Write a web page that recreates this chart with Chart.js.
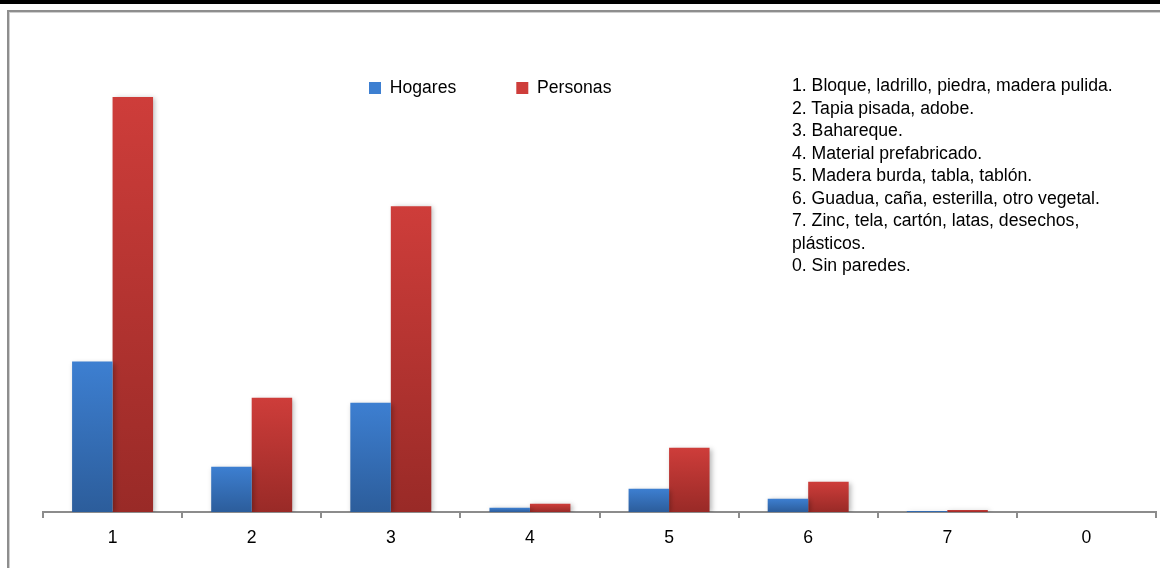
<!DOCTYPE html>
<html>
<head>
<meta charset="utf-8">
<script src="https://cdn.jsdelivr.net/npm/chart.js@4/dist/chart.umd.min.js"></script>
<style>
  html, body { margin: 0; padding: 0; background: #fff; }
  body { width: 1160px; height: 568px; position: relative; overflow: hidden; font-family: "Liberation Sans", Arial, sans-serif; }
  #topbar { position: absolute; left: 0; top: 0; width: 1160px; height: 4px; background: #000; }
  #frame { position: absolute; left: 7px; top: 10px; width: 1200px; height: 600px;
           border-top: 2px solid #8e8e8e; border-left: 2px solid #8e8e8e;
           box-shadow: inset 1px 1px 0 #cfcfcf; }
  #wrap { position: absolute; left: 0; top: 0; width: 1160px; height: 568px; }
  #notes { position: absolute; left: 792px; top: 74px; font-size: 18px; line-height: 22.5px;
           color: #000; white-space: nowrap; transform: scaleX(0.98); transform-origin: 0 0; }
</style>
</head>
<body>
<div id="topbar"></div>
<div id="frame"></div>
<div id="wrap"><canvas id="c" width="1160" height="568"></canvas></div>
<div id="notes"></div>
<script>
// ---- data ----
const categories = ['1', '2', '3', '4', '5', '6', '7', '0'];
const hogares  = [150, 45, 109, 4, 23, 13, 1, 0];
const personas = [414, 114, 305, 8, 64, 30, 2, 0];
const seriesNames = ['Hogares', 'Personas'];
const notes = [
  '1. Bloque, ladrillo, piedra, madera pulida.',
  '2. Tapia pisada, adobe.',
  '3. Bahareque.',
  '4. Material prefabricado.',
  '5. Madera burda, tabla, tablón.',
  '6. Guadua, caña, esterilla, otro vegetal.',
  '7. Zinc, tela, cartón, latas, desechos,',
  'plásticos.',
  '0. Sin paredes.'
];

document.getElementById('notes').innerHTML = notes.map(t => '<div>' + t + '</div>').join('');

function barGradient(top, bottom, flat) {
  return (ctx) => {
    const chart = ctx.chart;
    const sc = chart.scales && chart.scales.y;
    if (ctx.type !== 'data' || !chart.chartArea || !sc) return flat;
    const yTop = sc.getPixelForValue(ctx.raw);
    const yBase = sc.getPixelForValue(0);
    if (!isFinite(yTop) || yBase - yTop < 1) return top;
    const g = chart.ctx.createLinearGradient(0, yTop, 0, yBase);
    g.addColorStop(0, top);
    g.addColorStop(1, bottom);
    return g;
  };
}

const LEG_PAD = 60;
const legendPlacer = {
  id: 'legendPlacer',
  afterLayout(chart) {
    const lg = chart.legend;
    if (!lg) return;
    lg.left = 369 - LEG_PAD;
    lg.right = lg.left + 520;
    lg.top = 79.2 - LEG_PAD;
    lg.bottom = lg.top + 140;
    lg.width = 520;
    lg.height = 140;
  }
};

const barShadow = {
  id: 'barShadow',
  beforeDatasetDraw(chart) {
    const c = chart.ctx;
    c.save();
    c.shadowColor = 'rgba(0,0,0,0.28)';
    c.shadowBlur = 5;
    c.shadowOffsetX = 2;
    c.shadowOffsetY = 1;
  },
  afterDatasetDraw(chart) {
    chart.ctx.restore();
  }
};

const FONT = { family: '"Liberation Sans", Arial, sans-serif', size: 17.6 };

new Chart(document.getElementById('c'), {
  type: 'bar',
  data: {
    labels: categories,
    datasets: [
      { label: seriesNames[0], data: hogares,
        backgroundColor: barGradient('#3d7fd1', '#2c5d9b', '#3a74c0'), borderWidth: 0 },
      { label: seriesNames[1], data: personas,
        backgroundColor: barGradient('#ce3d3a', '#992a27', '#c4393a'), borderWidth: 0 }
    ]
  },
  options: {
    responsive: false,
    animation: false,
    devicePixelRatio: 1,
    layout: { padding: { left: 43, right: 4, top: 60, bottom: 9 } },
    datasets: { bar: { barPercentage: 1.0, categoryPercentage: 0.582 } },
    plugins: {
      legend: {
        display: true,
        position: 'top',
        align: 'start',
        maxHeight: 1,
        labels: { font: FONT, color: '#000', boxWidth: 12, boxHeight: 12, padding: LEG_PAD }
      },
      tooltip: { enabled: false },
      title: { display: false }
    },
    scales: {
      x: {
        offset: true,
        grid: { display: true, drawOnChartArea: false, drawTicks: true, tickLength: 6,
                color: '#8c8c8c', lineWidth: 2, offset: true },
        border: { display: true, color: '#8c8c8c', width: 2 },
        ticks: { font: FONT, color: '#000', padding: 10, maxRotation: 0 }
      },
      y: {
        display: false,
        min: 0,
        max: 450
      }
    }
  },
  plugins: [legendPlacer, barShadow]
});
</script>
</body>
</html>
